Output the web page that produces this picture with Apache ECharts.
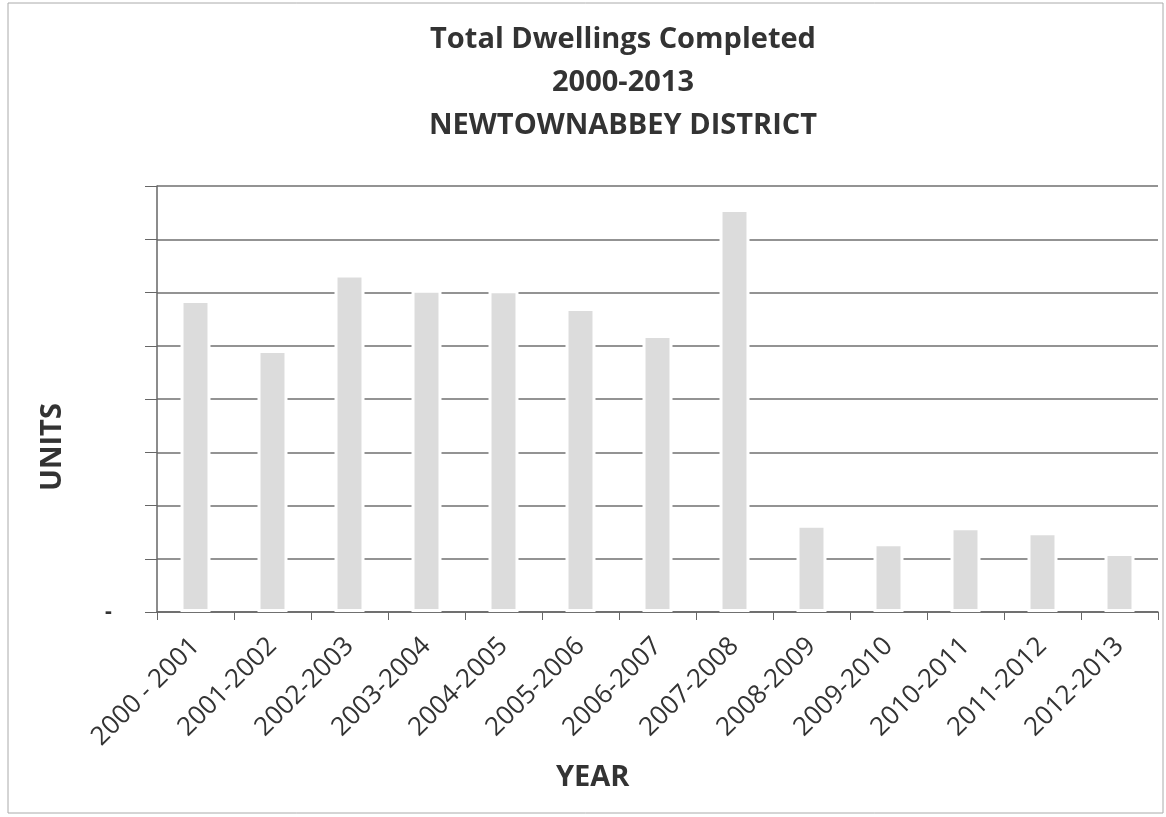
<!DOCTYPE html>
<html>
<head>
<meta charset="utf-8">
<script src="https://cdn.jsdelivr.net/npm/echarts@6/dist/echarts.min.js"></script>
<style>
html,body{margin:0;padding:0;background:#fff;}
#chart{width:1166px;height:817px;}
</style>
</head>
<body>
<div id="chart"></div>
<script>
const categories = ['2000 - 2001','2001-2002','2002-2003','2003-2004','2004-2005','2005-2006','2006-2007','2007-2008','2008-2009','2009-2010','2010-2011','2011-2012','2012-2013'];
const units = [586, 492, 634, 605, 604, 571, 520, 757, 164, 129, 159, 150, 111];
const yMin = 0, yMax = 800, yStep = 100;

const chart = echarts.init(document.getElementById('chart'));
chart.setOption({
  backgroundColor: '#fff',
  animation: false,
  title: {
    text: 'Total Dwellings Completed\n2000-2013\nNEWTOWNABBEY DISTRICT',
    left: 618,
    textAlign: 'center',
    top: 13,
    textStyle: { fontFamily: 'Open Sans', fontWeight: 'bold', fontSize: 29, color: '#333', lineHeight: 43 }
  },
  graphic: [{
    type: 'rect', shape: { x: 8, y: 3, width: 1155, height: 810 },
    style: { fill: 'none', stroke: '#aaa', lineWidth: 1 }, silent: true, z: -1
  }, {
    type: 'text', left: 556, top: 763,
    style: { text: 'YEAR', fontFamily: 'Open Sans', fontWeight: 'bold', fontSize: 29, fill: '#333' }
  }, {
    type: 'text', x: 38, y: 491, rotation: Math.PI / 2,
    style: { text: 'UNITS', fontFamily: 'Open Sans', fontWeight: 'bold', fontSize: 29, fill: '#333' }
  }],
  grid: { left: 157, right: 8, top: 186, bottom: 205 },
  xAxis: {
    type: 'category',
    data: categories,
    axisLine: { lineStyle: { color: '#666', width: 1.5 } },
    axisTick: { show: true, length: 8, lineStyle: { color: '#666' } },
    axisLabel: { rotate: 45, fontFamily: 'Open Sans', fontSize: 26, color: '#333', margin: 30, interval: 0 }
  },
  yAxis: {
    type: 'value',
    min: yMin, max: yMax, interval: yStep,
    axisLine: { show: true, lineStyle: { color: '#666', width: 1.5 } },
    axisTick: { show: true, length: 12, lineStyle: { color: '#666' } },
    axisLabel: { formatter: v => v === 0 ? '-' : '', fontSize: 22, fontWeight: 'bold', color: '#333', margin: 45 },
    splitLine: { lineStyle: { color: '#6f6f6f', width: 1.5 } }
  },
  series: [{
    type: 'bar',
    data: units,
    barWidth: 30,
    itemStyle: { color: '#dcdcdc', borderColor: '#fff', borderWidth: 3 }
  }]
});
</script>
</body>
</html>
